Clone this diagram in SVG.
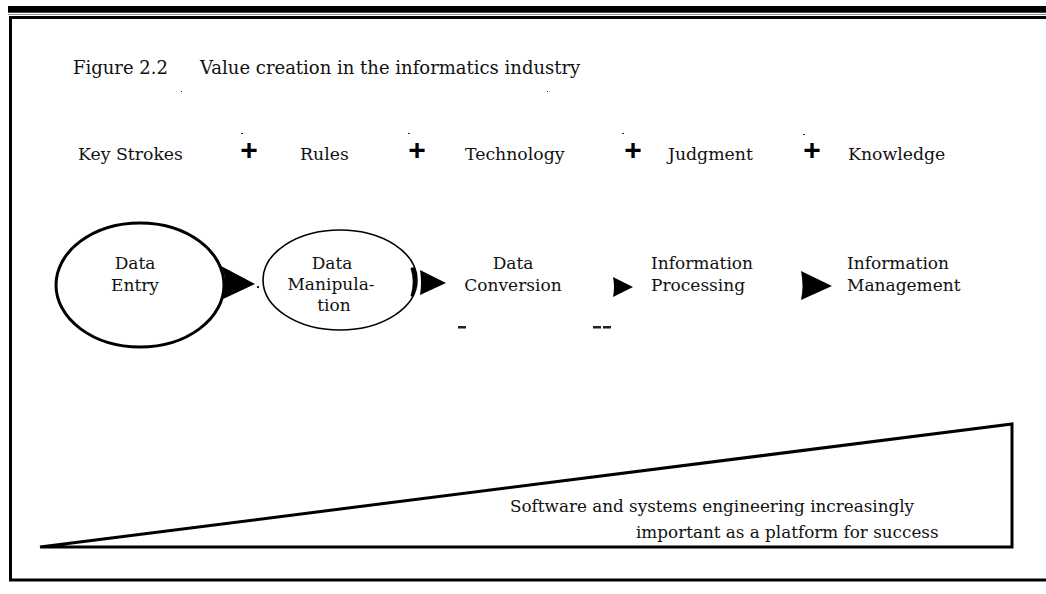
<svg xmlns="http://www.w3.org/2000/svg" width="1046" height="594" viewBox="0 0 1046 594">
  <style>
    .t { font-family: "DejaVu Serif", "Liberation Serif", serif; font-size: 17px; fill: #111; }
    .cap { font-size: 18px; }
    .row { font-size: 17.3px; }
    .note { font-size: 16.8px; }
    .mid { text-anchor: middle; }
    .plus { font-family: "Liberation Sans", Arial, sans-serif; font-weight: bold; font-size: 30px; fill: #000; text-anchor: middle; }
    .frame { stroke: #000; stroke-width: 3; fill: none; }
    .head { fill: #000; stroke: none; }
    .speck { fill: #222; }
  </style>

  <!-- page rule and frame -->
  <g id="frame">
    <rect x="8" y="6" width="1038" height="6.7" fill="#000"/>
    <line x1="8" y1="14.5" x2="1046" y2="14.5" stroke="#999" stroke-width="1"/>
    <path class="frame" d="M1046,17.5 H10.5 V580 H1046"/>
  </g>

  <!-- caption -->
  <g id="caption">
    <text class="t cap" x="73" y="74">Figure 2.2</text>
    <text class="t cap" x="200" y="74">Value creation in the informatics industry</text>
  </g>

  <!-- inputs row -->
  <g id="inputs">
    <text class="t row" x="78" y="160">Key Strokes</text>
    <text class="plus" x="249" y="160">+</text>
    <text class="t row" x="300" y="160">Rules</text>
    <text class="plus" x="417" y="160">+</text>
    <text class="t row" x="465" y="160">Technology</text>
    <text class="plus" x="633" y="160">+</text>
    <text class="t row" x="668" y="160">Judgment</text>
    <text class="plus" x="812" y="160">+</text>
    <text class="t row" x="848" y="160">Knowledge</text>
  </g>

  <!-- stages -->
  <g id="data-entry">
    <ellipse cx="140" cy="285" rx="84" ry="62" fill="none" stroke="#000" stroke-width="3"/>
    <text class="t mid" x="135" y="269">Data</text>
    <text class="t mid" x="135" y="291">Entry</text>
  </g>

  <g id="data-manipulation">
    <ellipse cx="340" cy="280" rx="77" ry="50" fill="none" stroke="#000" stroke-width="1.6"/>
    <text class="t mid" x="332" y="269">Data</text>
    <text class="t mid" x="331" y="290">Manipula-</text>
    <text class="t mid" x="334" y="311">tion</text>
  </g>

  <g id="data-conversion">
    <text class="t mid" x="513" y="269">Data</text>
    <text class="t mid" x="513" y="291">Conversion</text>
  </g>

  <g id="information-processing">
    <text class="t" x="651" y="269">Information</text>
    <text class="t" x="651" y="291">Processing</text>
  </g>

  <g id="information-management">
    <text class="t" x="847" y="269">Information</text>
    <text class="t" x="847" y="291">Management</text>
  </g>

  <!-- flow arrowheads between stages -->
  <g id="connectors">
    <path class="head" d="M221,266 L255,284 L221,300 Q229,283 221,266 Z"/>
    <path class="head" d="M414.5,267 Q419.5,282 413,297 L410.5,296 Q415,282 410.5,268 Z"/>
    <path class="head" d="M420,270 L446,283 L420,295 Q422,283 420,270 Z"/>
    <path class="head" d="M613,277 L633,287 L613,297 Q615,287 613,277 Z"/>
    <path class="head" d="M801,271 L832,286 L801,300 Q804,286 801,271 Z"/>
  </g>

  <!-- wedge: growing role of software and systems engineering -->
  <g id="wedge">
    <path class="frame" d="M40,547 L1012,424 V547 H40 Z" stroke-linejoin="miter"/>
    <text class="t note" x="510" y="512">Software and systems engineering increasingly</text>
    <text class="t note" x="636" y="538">important as a platform for success</text>
  </g>

  <!-- small stray marks -->
  <g id="marks">
    <rect class="speck" x="458" y="326" width="8" height="2.5"/>
    <rect class="speck" x="593" y="326" width="8" height="2.5"/>
    <rect class="speck" x="603" y="326" width="8" height="2.5"/>
    <rect class="speck" x="257" y="286" width="2" height="2"/>
    <rect class="speck" x="181" y="91" width="1" height="1"/>
    <rect class="speck" x="547" y="91" width="1" height="1"/>
    <rect class="speck" x="241" y="133" width="2" height="1"/>
    <rect class="speck" x="408" y="133" width="2" height="1"/>
    <rect class="speck" x="622" y="133" width="2" height="1"/>
    <rect class="speck" x="803" y="134" width="2" height="1"/>
  </g>
</svg>
